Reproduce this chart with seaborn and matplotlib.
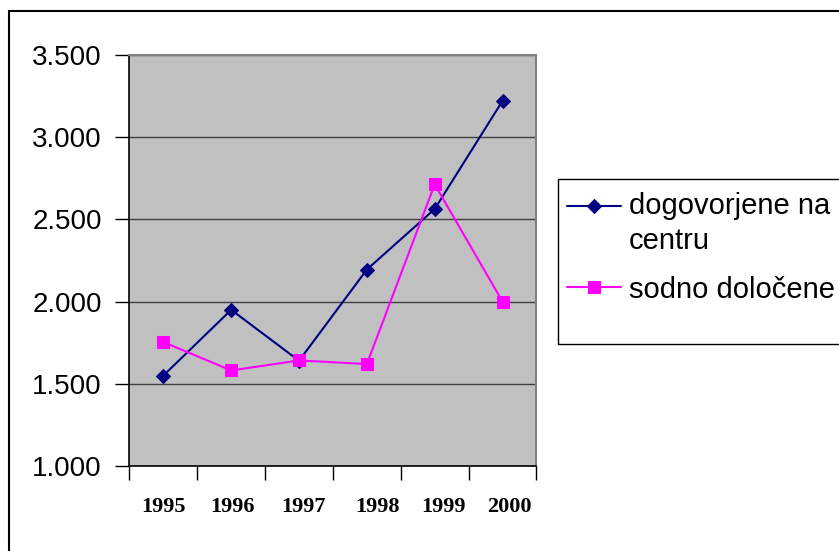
import matplotlib
matplotlib.use("Agg")
import matplotlib.pyplot as plt
import matplotlib.patches as mpatches
import matplotlib.transforms as mtransforms
from matplotlib.ticker import FuncFormatter
import seaborn as sns
import pandas as pd

years = ["1995", "1996", "1997", "1998", "1999", "2000"]
dogovorjene = [1550, 1950, 1640, 2195, 2563, 3221]
sodno = [1754, 1581, 1642, 1620, 2713, 2000]
label_dog = "dogovorjene na\ncentru"
label_sod = "sodno določene"

df = pd.DataFrame({"pos": range(len(years)), "year": years,
                   "dog": dogovorjene, "sod": sodno})

sns.set_theme(style="white", rc={"text.color": "black", "xtick.color": "black",
                                 "ytick.color": "black", "axes.labelcolor": "black"})
plt.rcParams["font.family"] = ["Liberation Sans", "DejaVu Sans"]

fig = plt.figure(figsize=(8.39, 5.51), dpi=100)
ax = fig.add_axes([0.1543, 0.1543, 0.6394 - 0.1543, 0.9002 - 0.1543])
ax.set_facecolor("#c0c0c0")

sns.lineplot(data=df, x="pos", y="dog", ax=ax, color="#000080", marker="D",
             markersize=6.8, markeredgecolor="#000080", linewidth=1.5,
             label=label_dog)
sns.lineplot(data=df, x="pos", y="sod", ax=ax, color="#ff00ff", marker="s",
             markersize=9.2, markeredgecolor="#ff00ff", linewidth=1.5,
             label=label_sod)

ax.set_xlim(-0.5, len(years) - 0.5)
ax.set_ylim(1000, 3500)
ax.set_yticks([1000, 1500, 2000, 2500, 3000, 3500])
ax.yaxis.set_major_formatter(FuncFormatter(lambda v, p: f"{int(v):,}".replace(",", ".")))
ax.yaxis.grid(True, color="#404040", linewidth=1)
ax.set_axisbelow(True)

ax.set_xticks([i - 0.5 for i in range(len(years) + 1)])
ax.set_xticklabels([])
ax.set_xticks(range(len(years)), minor=True)
ax.set_xticklabels(years, minor=True, family="Liberation Serif",
                   fontweight="bold", fontsize=16)
ax.tick_params(axis="x", which="major", direction="out", length=10, width=1,
               color="black", bottom=True)
ax.tick_params(axis="x", which="minor", length=0, pad=22)
ax.tick_params(axis="y", direction="out", length=10, width=1, color="black",
               left=True, labelsize=20, pad=10)

# small horizontal shifts of the year labels as in the original
shifts = [0, 1, 4, 11, 9, 7]
for lab, dx in zip(ax.get_xticklabels(minor=True), shifts):
    lab.set_transform(lab.get_transform() +
                      mtransforms.ScaledTranslation(dx / 100, 0, fig.dpi_scale_trans))

ax.set_xlabel("")
ax.set_ylabel("")
for side in ["top", "right"]:
    ax.spines[side].set_color("#808080")
    ax.spines[side].set_linewidth(1.5)
for side in ["left", "bottom"]:
    ax.spines[side].set_color("black")
    ax.spines[side].set_linewidth(1.2)

leg = ax.legend(loc="upper left", bbox_to_anchor=(567 / 839, 1 - 192 / 551),
                bbox_transform=fig.transFigure, fontsize=21, frameon=False,
                handlelength=1.85, handletextpad=0.28, borderpad=0,
                labelspacing=0.72, borderaxespad=0)
for t in leg.get_texts():
    t.set_linespacing(1.3)
# first handle sits on the first text line, like in the original
h0 = leg.legend_handles[0]
h0.set_ydata([y + 13 for y in h0.get_ydata()])

legbox = mpatches.Rectangle((558 / 839, 1 - 344 / 551), 0.5, (344 - 179) / 551,
                            transform=fig.transFigure, fill=False,
                            edgecolor="black", linewidth=1)
fig.patches.append(legbox)

border = mpatches.Rectangle((9 / 839, -0.1), 1.2, 1 - 11 / 551 + 0.1,
                            transform=fig.transFigure, fill=False,
                            edgecolor="black", linewidth=1.5)
fig.patches.append(border)

fig.savefig("out.png", dpi=100)
